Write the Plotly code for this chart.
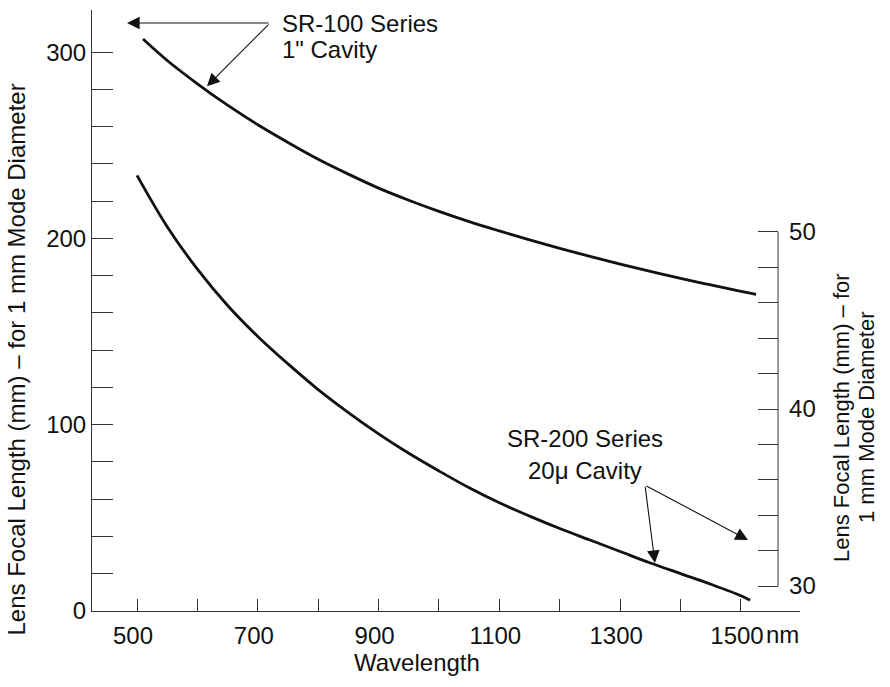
import plotly.graph_objects as go

# ---- data ----
sr100_nm = [510, 550, 600, 650, 700, 750, 800, 850, 900, 950, 1000, 1050, 1100, 1150, 1200,
            1250, 1300, 1350, 1400, 1450, 1500, 1525]
sr100_f = [307, 295.5, 283, 271.5, 261, 251.5, 242.5, 234.5, 227, 220.5, 214.5, 209, 204, 199.2, 194.7,
           190.3, 186.2, 182.3, 178.5, 175, 171.6, 170]

sr200_nm = [500, 550, 600, 650, 700, 750, 800, 850, 900, 950, 1000, 1050, 1100, 1150, 1200,
            1250, 1300, 1350, 1400, 1450, 1500, 1515]
sr200_f = [53.2, 50.3, 47.9, 45.85, 44.1, 42.55, 41.1, 39.8, 38.6, 37.5, 36.5, 35.55, 34.7, 33.95, 33.25,
           32.6, 31.95, 31.3, 30.7, 30.1, 29.45, 29.2]

x_ticks = [500, 600, 700, 800, 900, 1000, 1100, 1200, 1300, 1400, 1500]
x_ticklabels = ["500", "", "700", "", "900", "", "1100", "", "1300", "", "1500"]
y_ticks = list(range(0, 301, 20))
y_ticklabels = [str(v) if v % 100 == 0 else "" for v in y_ticks]
y2_ticks = list(range(30, 51, 2))
y2_ticklabels = [str(v) if v % 10 == 0 else "" for v in y2_ticks]

FONT = "Liberation Sans, Arial, Helvetica, sans-serif"
INK = "#111111"
FS = 24

fig = go.Figure()
fig.add_trace(go.Scatter(x=sr100_nm, y=sr100_f, mode="lines", line=dict(color=INK, width=2.8, shape="spline"),
                         name="SR-100", showlegend=False, hoverinfo="skip"))
fig.add_trace(go.Scatter(x=sr200_nm, y=sr200_f, mode="lines", yaxis="y2",
                         line=dict(color=INK, width=2.8, shape="spline"),
                         name="SR-200", showlegend=False, hoverinfo="skip"))

RIGHT_POS = 0.969

fig.update_layout(
    width=890, height=687,
    margin=dict(l=92, r=90, t=10, b=76),
    paper_bgcolor="white", plot_bgcolor="white",
    font=dict(family=FONT, size=FS, color=INK),
    xaxis=dict(range=[425.5, 1597.7], showline=True, linecolor="#333", linewidth=1,
               ticks="inside", ticklen=12, tickwidth=1, tickcolor="#333",
               tickvals=x_ticks, ticktext=x_ticklabels, showgrid=False, zeroline=False,
               ticklabelstandoff=3, ticklabelshift=-4, tickfont=dict(size=FS, color=INK)),
    yaxis=dict(range=[0, 322.6], showline=True, linecolor="#333", linewidth=1,
               ticks="inside", ticklen=21, tickwidth=1, tickcolor="#333",
               tickvals=y_ticks, ticktext=y_ticklabels, showgrid=False, zeroline=False,
               tickfont=dict(size=FS, color=INK)),
    yaxis2=dict(range=[28.59, 62.54], overlaying="y", side="right", anchor="free", position=RIGHT_POS,
                showline=False, ticks="inside", ticklen=20, tickwidth=1, tickcolor="#333",
                tickvals=y2_ticks, ticktext=y2_ticklabels, showgrid=False, zeroline=False,
                ticklabelstandoff=10, tickfont=dict(size=FS, color=INK)),
)

# right axis spine only from 30 to 50
fig.add_shape(type="line", xref="paper", yref="y2", x0=RIGHT_POS, x1=RIGHT_POS, y0=30, y1=50,
              line=dict(color="#333", width=1))

ann = []
# axis titles
ann.append(dict(text="Wavelength", xref="x", yref="paper", x=963.6, y=-0.0865, showarrow=False,
                xanchor="center", yanchor="middle", font=dict(size=FS)))
ann.append(dict(text="nm", xref="x", yref="paper", x=1500, y=-0.0395, showarrow=False,
                xanchor="left", yanchor="middle", xshift=23, font=dict(size=FS)))
ann.append(dict(text="Lens Focal Length (mm) \u2013 for 1 mm Mode Diameter", xref="paper", yref="paper",
                x=-0.108, y=0.4176, textangle=-90, showarrow=False, xanchor="center", yanchor="middle",
                font=dict(size=FS)))
ann.append(dict(text="Lens Focal Length (mm) \u2013 for", xref="paper", yref="paper",
                x=1.0593, y=0.3228, textangle=-90, showarrow=False, xanchor="center", yanchor="middle",
                font=dict(size=22)))
ann.append(dict(text="1 mm Mode Diameter", xref="paper", yref="paper",
                x=1.0946, y=0.3228, textangle=-90, showarrow=False, xanchor="center", yanchor="middle",
                font=dict(size=22)))
# series labels
ann.append(dict(text="SR-100 Series", xref="x", yref="y", x=736.8, y=315.5, showarrow=False,
                xanchor="left", yanchor="middle", font=dict(size=FS)))
ann.append(dict(text="1\" Cavity", xref="x", yref="y", x=736.8, y=301.5, showarrow=False,
                xanchor="left", yanchor="middle", font=dict(size=FS)))
ann.append(dict(text="SR-200 Series", xref="x", yref="y", x=1242.5, y=92.5, showarrow=False,
                xanchor="center", yanchor="middle", font=dict(size=FS)))
ann.append(dict(text="20\u03bc Cavity", xref="x", yref="y", x=1242.5, y=75.3, showarrow=False,
                xanchor="center", yanchor="middle", font=dict(size=FS)))
# arrows
arrow_style = dict(showarrow=True, text="", arrowhead=2, arrowsize=2.3, arrowwidth=1.1, arrowcolor=INK,
                   standoff=0, startstandoff=0)
ann.append(dict(xref="x", yref="y", axref="x", ayref="y", x=483.4, y=315.6, ax=720.2, ay=315.6, **arrow_style))
ann.append(dict(xref="x", yref="y", axref="x", ayref="y", x=615.9, y=281.7, ax=720.2, ay=315.6, **arrow_style))
ann.append(dict(xref="x", yref="y2", axref="x", ayref="y2", x=1357.6, y=31.3, ax=1341, ay=35.7, **arrow_style))
ann.append(dict(xref="x", yref="y2", axref="x", ayref="y2", x=1511.6, y=32.6, ax=1341, ay=35.7, **arrow_style))

fig.update_layout(annotations=ann)
fig.write_html("out.html", config={"displayModeBar": False},
               post_script="document.body.style.margin='0';document.body.style.overflow='hidden';")
